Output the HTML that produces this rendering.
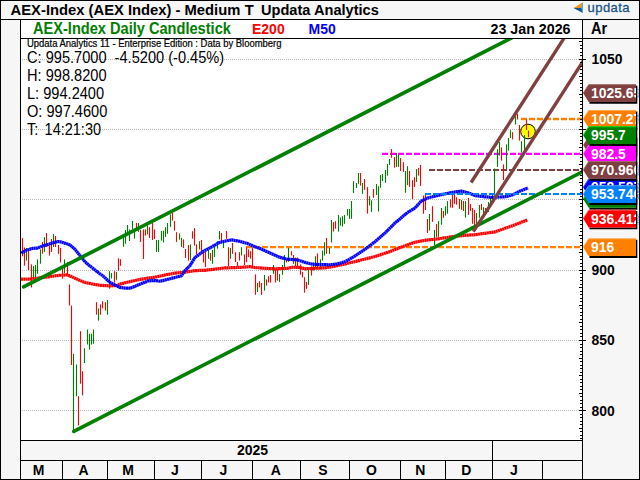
<!DOCTYPE html>
<html><head><meta charset="utf-8"><title>AEX-Index</title>
<style>
html,body{margin:0;padding:0;background:#f6f6f6;}
body{width:640px;height:480px;overflow:hidden;font-family:"Liberation Sans",sans-serif;}
svg{display:block;font-family:"Liberation Sans",sans-serif;}
text{font-family:"Liberation Sans",sans-serif;}
.b{font-weight:bold;}
</style></head><body>
<svg width="640" height="480" viewBox="0 0 640 480">
<defs><clipPath id="cp"><rect x="21" y="39" width="561" height="401"/></clipPath></defs>

<rect x="0" y="0" width="640" height="480" fill="#f6f6f6"/>
<rect x="21" y="20" width="561" height="18" fill="#ffffff"/>
<rect x="21" y="39" width="561" height="401" fill="#ffffff"/>
<g stroke="#b8b8b8" stroke-width="1" stroke-dasharray="1 1" shape-rendering="crispEdges">
<line x1="22" y1="59.5" x2="582" y2="59.5"/>
<line x1="22" y1="129.5" x2="582" y2="129.5"/>
<line x1="22" y1="199.5" x2="582" y2="199.5"/>
<line x1="22" y1="270.5" x2="582" y2="270.5"/>
<line x1="22" y1="340.5" x2="582" y2="340.5"/>
<line x1="22" y1="410.5" x2="582" y2="410.5"/>
</g>
<g clip-path="url(#cp)">
<circle cx="528" cy="131.5" r="7.3" fill="#ffff00" stroke="#000" stroke-width="1"/>
<line x1="246" y1="247.1" x2="582" y2="247.1" stroke="#ff8000" stroke-width="2.3" stroke-dasharray="6 2"/>
<line x1="521" y1="119.0" x2="582" y2="119.0" stroke="#ff8000" stroke-width="2.3" stroke-dasharray="6 2"/>
<line x1="382" y1="153.8" x2="582" y2="153.8" stroke="#ff00ff" stroke-width="2.3" stroke-dasharray="6 2"/>
<line x1="429" y1="170.0" x2="582" y2="170.0" stroke="#804040" stroke-width="2.1" stroke-dasharray="6 2"/>
<g>
<rect x="21.95" y="238.1" width="1.1" height="18.2" fill="#ff0000"/>
<rect x="23.95" y="247.5" width="1.1" height="18.1" fill="#ff0000"/>
<rect x="25.95" y="248.0" width="1.1" height="12.6" fill="#008000"/>
<rect x="27.95" y="250.0" width="1.1" height="20.0" fill="#ff0000"/>
<rect x="30.95" y="264.4" width="1.1" height="23.1" fill="#ff0000"/>
<rect x="32.95" y="266.0" width="1.1" height="11.5" fill="#008000"/>
<rect x="34.95" y="265.0" width="1.1" height="12.0" fill="#008000"/>
<rect x="36.95" y="259.4" width="1.1" height="14.4" fill="#008000"/>
<rect x="39.95" y="249.4" width="1.1" height="14.3" fill="#008000"/>
<rect x="41.95" y="241.9" width="1.1" height="11.8" fill="#ff0000"/>
<rect x="43.95" y="237.2" width="1.1" height="14.7" fill="#008000"/>
<rect x="45.95" y="233.0" width="1.1" height="14.0" fill="#ff0000"/>
<rect x="48.95" y="245.6" width="1.1" height="10.0" fill="#ff0000"/>
<rect x="50.95" y="239.0" width="1.1" height="13.0" fill="#ff0000"/>
<rect x="52.95" y="234.0" width="1.1" height="13.0" fill="#008000"/>
<rect x="54.95" y="236.0" width="1.1" height="11.0" fill="#ff0000"/>
<rect x="57.95" y="245.0" width="1.1" height="8.8" fill="#ff0000"/>
<rect x="59.95" y="248.0" width="1.1" height="14.5" fill="#ff0000"/>
<rect x="61.95" y="267.5" width="1.1" height="11.2" fill="#ff0000"/>
<rect x="63.95" y="259.4" width="1.1" height="13.6" fill="#008000"/>
<rect x="66.95" y="262.0" width="1.1" height="12.4" fill="#ff0000"/>
<rect x="68.95" y="284.4" width="1.1" height="21.2" fill="#ff0000"/>
<rect x="70.95" y="305.6" width="1.1" height="59.4" fill="#ff0000"/>
<rect x="72.95" y="353.8" width="1.1" height="76.2" fill="#008000"/>
<rect x="75.95" y="364.5" width="1.1" height="31.8" fill="#008000"/>
<rect x="77.95" y="396.2" width="1.1" height="29.2" fill="#ff0000"/>
<rect x="79.95" y="331.2" width="1.1" height="52.5" fill="#ff0000"/>
<rect x="81.95" y="371.2" width="1.1" height="24.2" fill="#ff0000"/>
<rect x="83.95" y="348.2" width="1.1" height="14.8" fill="#008000"/>
<rect x="86.95" y="329.5" width="1.1" height="15.0" fill="#008000"/>
<rect x="88.95" y="333.8" width="1.1" height="15.8" fill="#008000"/>
<rect x="90.95" y="333.8" width="1.1" height="10.8" fill="#008000"/>
<rect x="92.95" y="329.5" width="1.1" height="14.2" fill="#008000"/>
<rect x="95.95" y="302.2" width="1.1" height="12.5" fill="#ff0000"/>
<rect x="97.95" y="308.5" width="1.1" height="12.1" fill="#008000"/>
<rect x="99.95" y="304.4" width="1.1" height="10.4" fill="#ff0000"/>
<rect x="101.95" y="301.2" width="1.1" height="7.2" fill="#ff0000"/>
<rect x="104.95" y="302.2" width="1.1" height="8.4" fill="#ff0000"/>
<rect x="106.95" y="300.0" width="1.1" height="14.8" fill="#008000"/>
<rect x="108.95" y="271.2" width="1.1" height="17.5" fill="#008000"/>
<rect x="110.95" y="273.0" width="1.1" height="5.5" fill="#008000"/>
<rect x="113.95" y="271.2" width="1.1" height="11.4" fill="#ff0000"/>
<rect x="115.95" y="272.0" width="1.1" height="7.8" fill="#008000"/>
<rect x="117.95" y="258.3" width="1.1" height="12.4" fill="#ff0000"/>
<rect x="119.95" y="259.2" width="1.1" height="6.6" fill="#ff0000"/>
<rect x="122.95" y="236.9" width="1.1" height="10.0" fill="#008000"/>
<rect x="124.95" y="230.0" width="1.1" height="13.8" fill="#008000"/>
<rect x="126.95" y="225.0" width="1.1" height="9.4" fill="#008000"/>
<rect x="128.95" y="229.4" width="1.1" height="11.6" fill="#008000"/>
<rect x="131.95" y="221.0" width="1.1" height="8.4" fill="#008000"/>
<rect x="133.95" y="231.2" width="1.1" height="7.5" fill="#008000"/>
<rect x="135.95" y="223.0" width="1.1" height="5.0" fill="#ff0000"/>
<rect x="137.95" y="223.0" width="1.1" height="8.9" fill="#008000"/>
<rect x="139.95" y="230.0" width="1.1" height="11.9" fill="#ff0000"/>
<rect x="142.95" y="229.4" width="1.1" height="29.6" fill="#ff0000"/>
<rect x="144.95" y="229.4" width="1.1" height="6.2" fill="#ff0000"/>
<rect x="146.95" y="225.6" width="1.1" height="8.8" fill="#008000"/>
<rect x="148.95" y="227.2" width="1.1" height="10.8" fill="#ff0000"/>
<rect x="151.95" y="223.0" width="1.1" height="17.0" fill="#ff0000"/>
<rect x="153.95" y="229.4" width="1.1" height="9.6" fill="#ff0000"/>
<rect x="155.95" y="240.0" width="1.1" height="11.9" fill="#008000"/>
<rect x="157.95" y="240.0" width="1.1" height="11.9" fill="#008000"/>
<rect x="160.95" y="231.0" width="1.1" height="9.6" fill="#008000"/>
<rect x="162.95" y="230.6" width="1.1" height="11.9" fill="#008000"/>
<rect x="164.95" y="227.2" width="1.1" height="9.7" fill="#008000"/>
<rect x="166.95" y="223.0" width="1.1" height="10.8" fill="#008000"/>
<rect x="169.95" y="214.4" width="1.1" height="12.5" fill="#008000"/>
<rect x="171.95" y="213.0" width="1.1" height="7.6" fill="#ff0000"/>
<rect x="173.95" y="221.0" width="1.1" height="9.6" fill="#ff0000"/>
<rect x="175.95" y="232.2" width="1.1" height="9.7" fill="#ff0000"/>
<rect x="178.95" y="233.5" width="1.1" height="6.2" fill="#008000"/>
<rect x="180.95" y="238.0" width="1.1" height="8.9" fill="#008000"/>
<rect x="182.95" y="239.4" width="1.1" height="8.6" fill="#ff0000"/>
<rect x="184.95" y="249.0" width="1.1" height="9.0" fill="#ff0000"/>
<rect x="187.95" y="245.0" width="1.1" height="15.6" fill="#ff0000"/>
<rect x="189.95" y="244.4" width="1.1" height="15.6" fill="#008000"/>
<rect x="191.95" y="231.2" width="1.1" height="7.5" fill="#ff0000"/>
<rect x="193.95" y="228.0" width="1.1" height="17.6" fill="#ff0000"/>
<rect x="195.95" y="244.4" width="1.1" height="10.1" fill="#ff0000"/>
<rect x="198.95" y="241.2" width="1.1" height="8.2" fill="#008000"/>
<rect x="200.95" y="240.0" width="1.1" height="12.0" fill="#ff0000"/>
<rect x="202.95" y="252.0" width="1.1" height="10.5" fill="#ff0000"/>
<rect x="204.95" y="252.0" width="1.1" height="15.0" fill="#ff0000"/>
<rect x="207.95" y="250.0" width="1.1" height="8.8" fill="#008000"/>
<rect x="209.95" y="253.0" width="1.1" height="7.6" fill="#ff0000"/>
<rect x="211.95" y="250.0" width="1.1" height="13.8" fill="#008000"/>
<rect x="213.95" y="247.0" width="1.1" height="10.0" fill="#008000"/>
<rect x="216.95" y="241.2" width="1.1" height="7.5" fill="#008000"/>
<rect x="218.95" y="231.0" width="1.1" height="8.4" fill="#008000"/>
<rect x="220.95" y="233.0" width="1.1" height="8.2" fill="#ff0000"/>
<rect x="222.95" y="241.2" width="1.1" height="6.8" fill="#008000"/>
<rect x="225.95" y="231.0" width="1.1" height="7.8" fill="#ff0000"/>
<rect x="227.95" y="247.2" width="1.1" height="19.0" fill="#ff0000"/>
<rect x="229.95" y="248.0" width="1.1" height="10.8" fill="#008000"/>
<rect x="231.95" y="243.0" width="1.1" height="10.8" fill="#ff0000"/>
<rect x="234.95" y="252.2" width="1.1" height="9.8" fill="#ff0000"/>
<rect x="236.95" y="262.0" width="1.1" height="4.2" fill="#ff0000"/>
<rect x="238.95" y="252.2" width="1.1" height="8.4" fill="#ff0000"/>
<rect x="240.95" y="247.2" width="1.1" height="8.3" fill="#008000"/>
<rect x="243.95" y="254.4" width="1.1" height="10.6" fill="#ff0000"/>
<rect x="245.95" y="247.5" width="1.1" height="14.5" fill="#ff0000"/>
<rect x="247.95" y="249.4" width="1.1" height="7.6" fill="#ff0000"/>
<rect x="249.95" y="251.2" width="1.1" height="7.5" fill="#ff0000"/>
<rect x="251.95" y="247.5" width="1.1" height="19.0" fill="#ff0000"/>
<rect x="254.95" y="274.4" width="1.1" height="20.4" fill="#ff0000"/>
<rect x="256.95" y="283.0" width="1.1" height="9.0" fill="#008000"/>
<rect x="258.95" y="281.2" width="1.1" height="6.2" fill="#ff0000"/>
<rect x="260.95" y="283.0" width="1.1" height="11.8" fill="#ff0000"/>
<rect x="263.95" y="275.0" width="1.1" height="15.6" fill="#008000"/>
<rect x="265.95" y="279.4" width="1.1" height="6.2" fill="#ff0000"/>
<rect x="267.95" y="276.2" width="1.1" height="6.2" fill="#ff0000"/>
<rect x="269.95" y="275.0" width="1.1" height="7.5" fill="#ff0000"/>
<rect x="272.95" y="265.0" width="1.1" height="8.8" fill="#008000"/>
<rect x="274.95" y="269.4" width="1.1" height="13.1" fill="#ff0000"/>
<rect x="276.95" y="269.4" width="1.1" height="11.2" fill="#ff0000"/>
<rect x="278.95" y="274.0" width="1.1" height="7.9" fill="#008000"/>
<rect x="281.95" y="265.0" width="1.1" height="9.8" fill="#008000"/>
<rect x="283.95" y="255.0" width="1.1" height="11.9" fill="#008000"/>
<rect x="285.95" y="259.4" width="1.1" height="3.1" fill="#ff0000"/>
<rect x="287.95" y="247.8" width="1.1" height="14.1" fill="#008000"/>
<rect x="290.95" y="251.2" width="1.1" height="4.3" fill="#ff0000"/>
<rect x="292.95" y="255.0" width="1.1" height="8.8" fill="#ff0000"/>
<rect x="294.95" y="257.5" width="1.1" height="8.8" fill="#008000"/>
<rect x="296.95" y="257.5" width="1.1" height="8.8" fill="#ff0000"/>
<rect x="299.95" y="264.4" width="1.1" height="10.4" fill="#ff0000"/>
<rect x="301.95" y="271.9" width="1.1" height="5.6" fill="#ff0000"/>
<rect x="303.95" y="277.2" width="1.1" height="15.5" fill="#ff0000"/>
<rect x="305.95" y="281.9" width="1.1" height="6.9" fill="#ff0000"/>
<rect x="307.95" y="270.0" width="1.1" height="14.8" fill="#008000"/>
<rect x="310.95" y="266.2" width="1.1" height="9.4" fill="#ff0000"/>
<rect x="312.95" y="262.5" width="1.1" height="8.1" fill="#008000"/>
<rect x="314.95" y="256.2" width="1.1" height="12.5" fill="#008000"/>
<rect x="316.95" y="253.5" width="1.1" height="14.5" fill="#ff0000"/>
<rect x="319.95" y="259.4" width="1.1" height="9.4" fill="#008000"/>
<rect x="321.95" y="250.6" width="1.1" height="10.0" fill="#008000"/>
<rect x="323.95" y="242.2" width="1.1" height="13.3" fill="#008000"/>
<rect x="325.95" y="238.0" width="1.1" height="15.8" fill="#ff0000"/>
<rect x="328.95" y="248.0" width="1.1" height="6.0" fill="#008000"/>
<rect x="330.95" y="220.0" width="1.1" height="22.5" fill="#008000"/>
<rect x="332.95" y="222.2" width="1.1" height="9.3" fill="#ff0000"/>
<rect x="334.95" y="221.2" width="1.1" height="7.5" fill="#ff0000"/>
<rect x="337.95" y="215.0" width="1.1" height="16.6" fill="#008000"/>
<rect x="339.95" y="217.5" width="1.1" height="8.1" fill="#008000"/>
<rect x="341.95" y="216.2" width="1.1" height="10.3" fill="#008000"/>
<rect x="343.95" y="215.0" width="1.1" height="8.8" fill="#008000"/>
<rect x="346.95" y="209.0" width="1.1" height="6.6" fill="#008000"/>
<rect x="348.95" y="209.0" width="1.1" height="9.8" fill="#008000"/>
<rect x="350.95" y="201.0" width="1.1" height="17.8" fill="#008000"/>
<rect x="352.95" y="181.2" width="1.1" height="11.8" fill="#008000"/>
<rect x="355.95" y="183.0" width="1.1" height="5.0" fill="#008000"/>
<rect x="357.95" y="173.0" width="1.1" height="10.8" fill="#008000"/>
<rect x="359.95" y="173.0" width="1.1" height="12.6" fill="#ff0000"/>
<rect x="361.95" y="183.0" width="1.1" height="10.8" fill="#008000"/>
<rect x="363.95" y="179.0" width="1.1" height="10.8" fill="#ff0000"/>
<rect x="366.95" y="187.2" width="1.1" height="26.5" fill="#ff0000"/>
<rect x="368.95" y="196.2" width="1.1" height="9.3" fill="#008000"/>
<rect x="370.95" y="200.3" width="1.1" height="11.6" fill="#008000"/>
<rect x="372.95" y="189.0" width="1.1" height="8.8" fill="#ff0000"/>
<rect x="375.95" y="184.0" width="1.1" height="11.0" fill="#008000"/>
<rect x="377.95" y="186.2" width="1.1" height="25.3" fill="#008000"/>
<rect x="379.95" y="175.0" width="1.1" height="12.8" fill="#008000"/>
<rect x="381.95" y="174.0" width="1.1" height="7.0" fill="#008000"/>
<rect x="384.95" y="170.0" width="1.1" height="12.8" fill="#008000"/>
<rect x="386.95" y="164.0" width="1.1" height="11.6" fill="#008000"/>
<rect x="388.95" y="159.0" width="1.1" height="6.0" fill="#008000"/>
<rect x="390.95" y="149.0" width="1.1" height="8.8" fill="#ff0000"/>
<rect x="393.95" y="157.2" width="1.1" height="10.5" fill="#ff0000"/>
<rect x="395.95" y="153.0" width="1.1" height="13.9" fill="#008000"/>
<rect x="397.95" y="155.0" width="1.1" height="11.9" fill="#008000"/>
<rect x="399.95" y="158.0" width="1.1" height="13.0" fill="#ff0000"/>
<rect x="402.95" y="162.2" width="1.1" height="9.7" fill="#ff0000"/>
<rect x="404.95" y="171.0" width="1.1" height="21.8" fill="#008000"/>
<rect x="406.95" y="166.2" width="1.1" height="18.8" fill="#008000"/>
<rect x="408.95" y="171.0" width="1.1" height="15.9" fill="#ff0000"/>
<rect x="411.95" y="180.2" width="1.1" height="18.8" fill="#ff0000"/>
<rect x="413.95" y="177.2" width="1.1" height="9.7" fill="#ff0000"/>
<rect x="415.95" y="169.0" width="1.1" height="12.9" fill="#008000"/>
<rect x="417.95" y="168.0" width="1.1" height="7.6" fill="#ff0000"/>
<rect x="419.95" y="165.0" width="1.1" height="21.0" fill="#ff0000"/>
<rect x="422.95" y="195.6" width="1.1" height="18.2" fill="#ff0000"/>
<rect x="424.95" y="194.4" width="1.1" height="15.6" fill="#ff0000"/>
<rect x="426.95" y="219.0" width="1.1" height="14.0" fill="#ff0000"/>
<rect x="428.95" y="214.0" width="1.1" height="16.6" fill="#008000"/>
<rect x="431.95" y="206.2" width="1.1" height="15.7" fill="#ff0000"/>
<rect x="433.95" y="230.0" width="1.1" height="15.0" fill="#008000"/>
<rect x="435.95" y="224.0" width="1.1" height="12.9" fill="#ff0000"/>
<rect x="437.95" y="221.2" width="1.1" height="15.7" fill="#008000"/>
<rect x="440.95" y="208.0" width="1.1" height="16.8" fill="#008000"/>
<rect x="442.95" y="211.0" width="1.1" height="6.8" fill="#ff0000"/>
<rect x="444.95" y="206.2" width="1.1" height="9.3" fill="#008000"/>
<rect x="446.95" y="201.2" width="1.1" height="12.5" fill="#008000"/>
<rect x="449.95" y="199.4" width="1.1" height="8.1" fill="#ff0000"/>
<rect x="451.95" y="195.0" width="1.1" height="12.8" fill="#ff0000"/>
<rect x="453.95" y="195.0" width="1.1" height="8.8" fill="#ff0000"/>
<rect x="455.95" y="197.2" width="1.1" height="7.5" fill="#ff0000"/>
<rect x="458.95" y="199.0" width="1.1" height="9.8" fill="#ff0000"/>
<rect x="460.95" y="200.0" width="1.1" height="9.8" fill="#008000"/>
<rect x="462.95" y="201.0" width="1.1" height="10.0" fill="#ff0000"/>
<rect x="464.95" y="201.2" width="1.1" height="16.5" fill="#008000"/>
<rect x="467.95" y="198.0" width="1.1" height="16.8" fill="#ff0000"/>
<rect x="469.95" y="204.0" width="1.1" height="7.0" fill="#ff0000"/>
<rect x="471.95" y="208.0" width="1.1" height="15.8" fill="#ff0000"/>
<rect x="473.95" y="210.0" width="1.1" height="15.0" fill="#ff0000"/>
<rect x="475.95" y="213.0" width="1.1" height="10.8" fill="#008000"/>
<rect x="478.95" y="205.0" width="1.1" height="12.8" fill="#008000"/>
<rect x="480.95" y="204.0" width="1.1" height="6.0" fill="#ff0000"/>
<rect x="482.95" y="207.2" width="1.1" height="6.5" fill="#008000"/>
<rect x="484.95" y="208.0" width="1.1" height="4.0" fill="#ff0000"/>
<rect x="487.95" y="202.0" width="1.1" height="10.0" fill="#008000"/>
<rect x="489.95" y="197.0" width="1.1" height="7.0" fill="#008000"/>
<rect x="491.95" y="194.0" width="1.1" height="7.0" fill="#008000"/>
<rect x="493.95" y="168.5" width="1.1" height="27.0" fill="#008000"/>
<rect x="496.95" y="149.2" width="1.1" height="17.7" fill="#008000"/>
<rect x="498.95" y="142.0" width="1.1" height="13.6" fill="#008000"/>
<rect x="500.95" y="147.4" width="1.1" height="13.2" fill="#ff0000"/>
<rect x="502.95" y="164.4" width="1.1" height="15.6" fill="#ff0000"/>
<rect x="505.95" y="144.4" width="1.1" height="24.6" fill="#008000"/>
<rect x="507.95" y="138.0" width="1.1" height="12.6" fill="#008000"/>
<rect x="509.95" y="130.2" width="1.1" height="7.8" fill="#008000"/>
<rect x="511.95" y="132.2" width="1.1" height="7.2" fill="#ff0000"/>
<rect x="514.95" y="116.2" width="1.1" height="8.2" fill="#008000"/>
<rect x="516.95" y="113.8" width="1.1" height="5.7" fill="#ff0000"/>
<rect x="518.95" y="125.0" width="1.1" height="15.6" fill="#ff0000"/>
<rect x="520.95" y="141.2" width="1.1" height="11.2" fill="#008000"/>
<rect x="523.95" y="135.0" width="1.1" height="17.5" fill="#008000"/>
<rect x="525.95" y="119.4" width="1.1" height="10.6" fill="#ff0000"/>
<rect x="527.95" y="130.6" width="1.1" height="6.7" fill="#ff0000"/>
</g>
<polyline points="21,279.05 30,279.05 40,277.8 50,276.55 57.5,275.55 66.25,274.8 70,275.90000000000003 75,278.3 80,280.5 85,282.5 92.5,284.0 100,285.3 110,285.90000000000003 117.5,285.40000000000003 120,284.1 130,281.6 140,279.40000000000003 150,277.8 155,277.2 165,275.0 175,273.1 185,272.2 195,270.6 205,270.3 215,269.05 225,267.90000000000003 235,267.6 245,267.1 250,266.6 255,267.55 265,268.3 275,268.8 287.5,268.3 292.5,267.2 300,267.55 305,268.8 315,268.3 325,267.8 330,267.1 345,264.05 360,260.3 375,256.55 390,251.55 400,247.60000000000002 415,242.20000000000002 425,240.3 435,239.3 445,237.8 455,236.3 465,235.3 475,234.70000000000002 485,233.3 495,231.9 505,228.3 515,224.8 527.5,219.8" fill="none" stroke="#ff0000" stroke-width="3.2" stroke-linejoin="round" stroke-linecap="butt" stroke-dasharray="2.0 0.25"/>
<polyline points="21.25,253.1 26.25,250.3 32.5,248.4 37.5,248.1 42.5,245.9 47.5,244.7 52.5,242.8 57.5,241.6 60,241.7 62.5,242.4 70,244.9 75,249.25 80,255.5 85,261.75 90,266.1 95,269.9 100,274.0 102.5,275.5 110,282.4 115,285.0 120,287.5 125,288.1 130.6,288.1 138.75,284.7 148,281.0 153.75,280.3 160,281.25 167.5,279.4 175,277.5 181.25,275.9 185,270.6 190,265.6 195,257.5 203.75,251.1 211.25,247.2 218.75,242.8 225,241.1 231.9,239.9 240,241.4 247.5,243.5 255,246.75 260,248.5 270,253.0 280,257.4 287.5,259.25 297.5,259.9 305,262.4 312.5,264.25 320,264.5 330,264.8 337,264.0 345,261.75 355,256.0 365,249.25 375,241.75 385,233.0 395,223.0 407.5,212.5 415,208.0 421.25,201.1 427.5,198.0 440,194.9 452.5,192.4 461.25,191.1 468.75,193.0 475,195.5 485,196.8 492.5,197.4 505,196.75 512.5,194.9 520,191.1 528,188.0" fill="none" stroke="#0000ff" stroke-width="3.2" stroke-linejoin="round" stroke-linecap="butt" stroke-dasharray="2.0 0.25"/>
<line x1="425" y1="194.1" x2="582" y2="194.1" stroke="#0080ff" stroke-width="2.0" stroke-dasharray="6 2"/>
<line x1="23.6" y1="286.9" x2="520" y2="33.59" stroke="#008000" stroke-width="3.65" stroke-linecap="round"/>
<line x1="73.8" y1="431.3" x2="590" y2="167.88" stroke="#008000" stroke-width="3.65" stroke-linecap="round"/>
<line x1="471.1" y1="182.5" x2="571.1" y2="27.20" stroke="#804040" stroke-width="3.35" stroke-linecap="butt"/>
<line x1="473.3" y1="231.7" x2="593.3" y2="45.34" stroke="#804040" stroke-width="3.35" stroke-linecap="butt"/>
</g>
<g fill="#000" shape-rendering="crispEdges">
<rect x="0" y="0" width="640" height="1"/>
<rect x="0" y="0" width="1" height="480"/>
<rect x="639" y="0" width="1" height="480"/>
<rect x="0" y="479" width="640" height="1"/>
<rect x="0" y="19" width="640" height="1"/>
<rect x="20" y="38" width="620" height="1"/>
<rect x="20" y="19" width="1" height="461"/>
<rect x="582" y="19" width="1" height="461"/>
<rect x="20" y="440" width="563" height="1"/>
<rect x="20" y="460" width="563" height="1"/>
<rect x="62" y="460" width="1" height="20"/>
<rect x="107" y="460" width="1" height="20"/>
<rect x="154" y="460" width="1" height="20"/>
<rect x="201" y="460" width="1" height="20"/>
<rect x="252" y="460" width="1" height="20"/>
<rect x="300" y="460" width="1" height="20"/>
<rect x="349" y="460" width="1" height="20"/>
<rect x="400" y="460" width="1" height="20"/>
<rect x="445" y="460" width="1" height="20"/>
<rect x="492" y="460" width="1" height="20"/>
<rect x="542" y="460" width="1" height="20"/>
<rect x="492" y="440" width="1" height="20"/>
<rect x="580" y="438" width="2" height="1"/>
<rect x="580" y="435" width="2" height="1"/>
<rect x="580" y="431" width="2" height="1"/>
<rect x="579" y="428" width="3" height="1"/>
<rect x="580" y="424" width="2" height="1"/>
<rect x="580" y="421" width="2" height="1"/>
<rect x="580" y="417" width="2" height="1"/>
<rect x="580" y="414" width="2" height="1"/>
<rect x="579" y="410" width="7" height="1"/>
<rect x="580" y="407" width="2" height="1"/>
<rect x="580" y="403" width="2" height="1"/>
<rect x="580" y="400" width="2" height="1"/>
<rect x="580" y="396" width="2" height="1"/>
<rect x="579" y="393" width="3" height="1"/>
<rect x="580" y="389" width="2" height="1"/>
<rect x="580" y="386" width="2" height="1"/>
<rect x="580" y="382" width="2" height="1"/>
<rect x="580" y="379" width="2" height="1"/>
<rect x="579" y="375" width="3" height="1"/>
<rect x="580" y="372" width="2" height="1"/>
<rect x="580" y="368" width="2" height="1"/>
<rect x="580" y="365" width="2" height="1"/>
<rect x="580" y="361" width="2" height="1"/>
<rect x="579" y="358" width="3" height="1"/>
<rect x="580" y="354" width="2" height="1"/>
<rect x="580" y="351" width="2" height="1"/>
<rect x="580" y="347" width="2" height="1"/>
<rect x="580" y="344" width="2" height="1"/>
<rect x="579" y="340" width="7" height="1"/>
<rect x="580" y="336" width="2" height="1"/>
<rect x="580" y="333" width="2" height="1"/>
<rect x="580" y="329" width="2" height="1"/>
<rect x="580" y="326" width="2" height="1"/>
<rect x="579" y="322" width="3" height="1"/>
<rect x="580" y="319" width="2" height="1"/>
<rect x="580" y="315" width="2" height="1"/>
<rect x="580" y="312" width="2" height="1"/>
<rect x="580" y="308" width="2" height="1"/>
<rect x="579" y="305" width="3" height="1"/>
<rect x="580" y="301" width="2" height="1"/>
<rect x="580" y="298" width="2" height="1"/>
<rect x="580" y="294" width="2" height="1"/>
<rect x="580" y="291" width="2" height="1"/>
<rect x="579" y="287" width="3" height="1"/>
<rect x="580" y="284" width="2" height="1"/>
<rect x="580" y="280" width="2" height="1"/>
<rect x="580" y="277" width="2" height="1"/>
<rect x="580" y="273" width="2" height="1"/>
<rect x="579" y="270" width="7" height="1"/>
<rect x="580" y="266" width="2" height="1"/>
<rect x="580" y="263" width="2" height="1"/>
<rect x="580" y="259" width="2" height="1"/>
<rect x="580" y="256" width="2" height="1"/>
<rect x="579" y="252" width="3" height="1"/>
<rect x="580" y="249" width="2" height="1"/>
<rect x="580" y="245" width="2" height="1"/>
<rect x="580" y="242" width="2" height="1"/>
<rect x="580" y="238" width="2" height="1"/>
<rect x="579" y="235" width="3" height="1"/>
<rect x="580" y="231" width="2" height="1"/>
<rect x="580" y="228" width="2" height="1"/>
<rect x="580" y="224" width="2" height="1"/>
<rect x="580" y="220" width="2" height="1"/>
<rect x="579" y="217" width="3" height="1"/>
<rect x="580" y="213" width="2" height="1"/>
<rect x="580" y="210" width="2" height="1"/>
<rect x="580" y="206" width="2" height="1"/>
<rect x="580" y="203" width="2" height="1"/>
<rect x="579" y="199" width="7" height="1"/>
<rect x="580" y="196" width="2" height="1"/>
<rect x="580" y="192" width="2" height="1"/>
<rect x="580" y="189" width="2" height="1"/>
<rect x="580" y="185" width="2" height="1"/>
<rect x="579" y="182" width="3" height="1"/>
<rect x="580" y="178" width="2" height="1"/>
<rect x="580" y="175" width="2" height="1"/>
<rect x="580" y="171" width="2" height="1"/>
<rect x="580" y="168" width="2" height="1"/>
<rect x="579" y="164" width="3" height="1"/>
<rect x="580" y="161" width="2" height="1"/>
<rect x="580" y="157" width="2" height="1"/>
<rect x="580" y="154" width="2" height="1"/>
<rect x="580" y="150" width="2" height="1"/>
<rect x="579" y="147" width="3" height="1"/>
<rect x="580" y="143" width="2" height="1"/>
<rect x="580" y="140" width="2" height="1"/>
<rect x="580" y="136" width="2" height="1"/>
<rect x="580" y="133" width="2" height="1"/>
<rect x="579" y="129" width="7" height="1"/>
<rect x="580" y="126" width="2" height="1"/>
<rect x="580" y="122" width="2" height="1"/>
<rect x="580" y="119" width="2" height="1"/>
<rect x="580" y="115" width="2" height="1"/>
<rect x="579" y="112" width="3" height="1"/>
<rect x="580" y="108" width="2" height="1"/>
<rect x="580" y="104" width="2" height="1"/>
<rect x="580" y="101" width="2" height="1"/>
<rect x="580" y="97" width="2" height="1"/>
<rect x="579" y="94" width="3" height="1"/>
<rect x="580" y="90" width="2" height="1"/>
<rect x="580" y="87" width="2" height="1"/>
<rect x="580" y="83" width="2" height="1"/>
<rect x="580" y="80" width="2" height="1"/>
<rect x="579" y="76" width="3" height="1"/>
<rect x="580" y="73" width="2" height="1"/>
<rect x="580" y="69" width="2" height="1"/>
<rect x="580" y="66" width="2" height="1"/>
<rect x="580" y="62" width="2" height="1"/>
<rect x="579" y="59" width="7" height="1"/>
<rect x="580" y="55" width="2" height="1"/>
<rect x="580" y="52" width="2" height="1"/>
<rect x="580" y="48" width="2" height="1"/>
<rect x="580" y="45" width="2" height="1"/>
<rect x="579" y="41" width="3" height="1"/>
</g>
<g fill="#000" font-size="14px">
<text transform="translate(10.6 14.6) scale(1 1.05)" class="b" font-size="14.78px" xml:space="preserve" >AEX-Index (AEX Index) - Medium</text>
<text transform="translate(244.7 14.6) scale(1 1.05)" class="b" font-size="14.75px" xml:space="preserve" >T</text>
<text transform="translate(261 14.6) scale(1 1.05)" class="b" font-size="14.6px" xml:space="preserve" >Updata Analytics</text>
<text transform="translate(33 34) scale(1 1.08)" class="b" fill="#008000" font-size="14.6px" xml:space="preserve" >AEX-Index Daily Candlestick</text>
<text transform="translate(252 34) scale(1 1.08)" class="b" fill="#ff0000" font-size="14px" xml:space="preserve" >E200</text>
<text transform="translate(308.5 34) scale(1 1.08)" class="b" fill="#0000ff" font-size="14px" xml:space="preserve" >M50</text>
<text transform="translate(490.5 34) scale(1 1.08)" class="b" font-size="14.25px" xml:space="preserve" >23 Jan 2026</text>
<text transform="translate(591 34) scale(1 1.08)" class="b" font-size="14.6px" xml:space="preserve" >Ar</text>
<text transform="translate(44.6 135.4) scale(1 1.08)" font-size="14.5px" xml:space="preserve" >14:21:30</text>
<text transform="translate(27 47.2) scale(1 1.08)" font-size="9.45px" xml:space="preserve" stroke="#000" stroke-width="0.2">Updata Analytics 11 - Enterprise Edition : Data by Bloomberg</text>
<text transform="translate(27 63.4) scale(1 1.08)" font-size="14.6px" xml:space="preserve" >C: 995.7000  -4.5200 (-0.45%)</text>
<text transform="translate(27 81.4) scale(1 1.08)" font-size="14.6px" xml:space="preserve" >H: 998.8200</text>
<text transform="translate(27 99.4) scale(1 1.08)" font-size="14.6px" xml:space="preserve" >L: 994.2400</text>
<text transform="translate(27 117.4) scale(1 1.08)" font-size="14.6px" xml:space="preserve" >O: 997.4600</text>
<text transform="translate(27 135.4) scale(1 1.08)" font-size="14.6px" xml:space="preserve" >T:</text>
<text transform="translate(591.5 64.0) scale(1 1.1)" class="b" font-size="13.9px" xml:space="preserve" >1050</text>
<text transform="translate(591.5 274.9) scale(1 1.1)" class="b" font-size="13.9px" xml:space="preserve" >900</text>
<text transform="translate(591.5 345.2) scale(1 1.1)" class="b" font-size="13.9px" xml:space="preserve" >850</text>
<text transform="translate(591.5 415.5) scale(1 1.1)" class="b" font-size="13.9px" xml:space="preserve" >800</text>
<text transform="translate(237 455.2) scale(1 1.09)" class="b" font-size="14px" xml:space="preserve" >2025</text>
<text transform="translate(38.5 475.2) scale(1 1.09)" class="b" text-anchor="middle" font-size="14px" xml:space="preserve" >M</text>
<text transform="translate(83.6 475.2) scale(1 1.09)" class="b" text-anchor="middle" font-size="14px" xml:space="preserve" >A</text>
<text transform="translate(128 475.2) scale(1 1.09)" class="b" text-anchor="middle" font-size="14px" xml:space="preserve" >M</text>
<text transform="translate(175 475.2) scale(1 1.09)" class="b" text-anchor="middle" font-size="14px" xml:space="preserve" >J</text>
<text transform="translate(223.4 475.2) scale(1 1.09)" class="b" text-anchor="middle" font-size="14px" xml:space="preserve" >J</text>
<text transform="translate(275.9 475.2) scale(1 1.09)" class="b" text-anchor="middle" font-size="14px" xml:space="preserve" >A</text>
<text transform="translate(323 475.2) scale(1 1.09)" class="b" text-anchor="middle" font-size="14px" xml:space="preserve" >S</text>
<text transform="translate(371.5 475.2) scale(1 1.09)" class="b" text-anchor="middle" font-size="14px" xml:space="preserve" >O</text>
<text transform="translate(420.4 475.2) scale(1 1.09)" class="b" text-anchor="middle" font-size="14px" xml:space="preserve" >N</text>
<text transform="translate(466.3 475.2) scale(1 1.09)" class="b" text-anchor="middle" font-size="14px" xml:space="preserve" >D</text>
<text transform="translate(514 475.2) scale(1 1.09)" class="b" text-anchor="middle" font-size="14px" xml:space="preserve" >J</text>
</g>
<g>
<path d="M573.4 8.1 L581.6 8.0 L582.9 12.9 Z" fill="#18528a"/>
<path d="M581.4 3.2 L582.9 2.5 L582.9 12.9 L581.0 8.0 Z" fill="#29abe2"/>
<path d="M573.4 8.1 L582.3 2.7 L581.4 8.1 Z" fill="#f7941d"/>
<text x="587.6" y="12" font-size="13px" fill="#18528a" stroke="#18528a" stroke-width="0.3" letter-spacing="0.42">updata</text>
</g>
<path d="M589.5 153.8 L636 153.8 L636 137.5 L637.3 137.5 L637.3 155.70000000000002 L589.5 155.70000000000002 Z" fill="#000"/>
<path d="M583.2 145 L588.7 136.5 L636 136.5 L636 153.8 L588.7 153.8 Z" fill="#804040"/>
<svg x="583" y="136.5" width="53" height="17.5" viewBox="583 136.5 53 17.5" overflow="hidden"><text class="b" transform="translate(591 150.0) scale(1 1.07)" font-size="13.9px" fill="#fff"></text></svg>
<svg x="637.3" y="84.63609999999989" width="1.7" height="18" viewBox="637.3 84.63609999999989 1.7 18" overflow="hidden"><text class="b" transform="translate(591 98.13609999999989) scale(1 1.07)" font-size="13.9px" fill="#fff" stroke="#3399ff" stroke-width="0.7">1025.65</text></svg>
<path d="M589.5 101.93609999999988 L636 101.93609999999988 L636 85.63609999999989 L637.3 85.63609999999989 L637.3 103.83609999999989 L589.5 103.83609999999989 Z" fill="#000"/>
<path d="M583.2 93.13609999999989 L588.7 84.63609999999989 L636 84.63609999999989 L636 101.93609999999988 L588.7 101.93609999999988 Z" fill="#804040"/>
<path d="M583.2 93.13609999999989 L588.7 84.63609999999989 L636 84.63609999999989" fill="none" stroke="#a06a6a" stroke-width="1"/>
<svg x="583" y="84.63609999999989" width="53" height="17.5" viewBox="583 84.63609999999989 53 17.5" overflow="hidden"><text class="b" transform="translate(591 98.13609999999989) scale(1 1.07)" font-size="13.9px" fill="#fff">1025.65</text></svg>
<svg x="637.3" y="110.47838000000004" width="1.7" height="18" viewBox="637.3 110.47838000000004 1.7 18" overflow="hidden"><text class="b" transform="translate(591 123.97838000000004) scale(1 1.07)" font-size="13.9px" fill="#fff" stroke="#3399ff" stroke-width="0.7">1007.27</text></svg>
<path d="M589.5 127.77838000000004 L636 127.77838000000004 L636 111.47838000000004 L637.3 111.47838000000004 L637.3 129.67838000000003 L589.5 129.67838000000003 Z" fill="#000"/>
<path d="M583.2 118.97838000000004 L588.7 110.47838000000004 L636 110.47838000000004 L636 127.77838000000004 L588.7 127.77838000000004 Z" fill="#ff8000"/>
<path d="M583.2 118.97838000000004 L588.7 110.47838000000004 L636 110.47838000000004" fill="none" stroke="#ffa64d" stroke-width="1"/>
<svg x="583" y="110.47838000000004" width="53" height="17.5" viewBox="583 110.47838000000004 53 17.5" overflow="hidden"><text class="b" transform="translate(591 123.97838000000004) scale(1 1.07)" font-size="13.9px" fill="#fff">1007.27</text></svg>
<svg x="637.3" y="145.305" width="1.7" height="18" viewBox="637.3 145.305 1.7 18" overflow="hidden"><text class="b" transform="translate(591 158.805) scale(1 1.07)" font-size="13.9px" fill="#fff" stroke="#3399ff" stroke-width="0.7">982.5</text></svg>
<path d="M589.5 162.60500000000002 L636 162.60500000000002 L636 146.305 L637.3 146.305 L637.3 164.50500000000002 L589.5 164.50500000000002 Z" fill="#000"/>
<path d="M583.2 153.805 L588.7 145.305 L636 145.305 L636 162.60500000000002 L588.7 162.60500000000002 Z" fill="#ff00ff"/>
<path d="M583.2 153.805 L588.7 145.305 L636 145.305" fill="none" stroke="#ff66ff" stroke-width="1"/>
<svg x="583" y="145.305" width="53" height="17.5" viewBox="583 145.305 53 17.5" overflow="hidden"><text class="b" transform="translate(591 158.805) scale(1 1.07)" font-size="13.9px" fill="#fff">982.5</text></svg>
<svg x="637.3" y="126.74579999999995" width="1.7" height="18" viewBox="637.3 126.74579999999995 1.7 18" overflow="hidden"><text class="b" transform="translate(591 140.24579999999995) scale(1 1.07)" font-size="13.9px" fill="#fff" stroke="#3399ff" stroke-width="0.7">995.7</text></svg>
<path d="M589.5 144.04579999999996 L636 144.04579999999996 L636 127.74579999999995 L637.3 127.74579999999995 L637.3 145.94579999999996 L589.5 145.94579999999996 Z" fill="#000"/>
<path d="M583.2 135.24579999999995 L588.7 126.74579999999995 L636 126.74579999999995 L636 144.04579999999996 L588.7 144.04579999999996 Z" fill="#008000"/>
<path d="M583.2 135.24579999999995 L588.7 126.74579999999995 L636 126.74579999999995" fill="none" stroke="#00e000" stroke-width="1"/>
<svg x="583" y="126.74579999999995" width="53" height="17.5" viewBox="583 126.74579999999995 53 17.5" overflow="hidden"><text class="b" transform="translate(591 140.24579999999995) scale(1 1.07)" font-size="13.9px" fill="#fff">995.7</text></svg>
<svg x="637.3" y="178.93651999999997" width="1.7" height="18" viewBox="637.3 178.93651999999997 1.7 18" overflow="hidden"><text class="b" transform="translate(591 192.43651999999997) scale(1 1.07)" font-size="13.9px" fill="#fff" stroke="#3399ff" stroke-width="0.7">958.587</text></svg>
<path d="M589.5 196.23651999999998 L636 196.23651999999998 L636 179.93651999999997 L637.3 179.93651999999997 L637.3 198.13652 L589.5 198.13652 Z" fill="#000"/>
<path d="M583.2 187.43651999999997 L588.7 178.93651999999997 L636 178.93651999999997 L636 196.23651999999998 L588.7 196.23651999999998 Z" fill="#0000ff"/>
<path d="M583.2 187.43651999999997 L588.7 178.93651999999997 L636 178.93651999999997" fill="none" stroke="#4d4dff" stroke-width="1"/>
<svg x="583" y="178.93651999999997" width="53" height="17.5" viewBox="583 178.93651999999997 53 17.5" overflow="hidden"><text class="b" transform="translate(591 192.43651999999997) scale(1 1.07)" font-size="13.9px" fill="#fff">958.587</text></svg>
<svg x="637.3" y="161.53023999999996" width="1.7" height="18" viewBox="637.3 161.53023999999996 1.7 18" overflow="hidden"><text class="b" transform="translate(591 175.03023999999996) scale(1 1.07)" font-size="13.9px" fill="#fff" stroke="#3399ff" stroke-width="0.7">970.960</text></svg>
<path d="M589.5 178.83023999999997 L636 178.83023999999997 L636 162.53023999999996 L637.3 162.53023999999996 L637.3 180.73023999999998 L589.5 180.73023999999998 Z" fill="#000"/>
<path d="M583.2 170.03023999999996 L588.7 161.53023999999996 L636 161.53023999999996 L636 178.83023999999997 L588.7 178.83023999999997 Z" fill="#804040"/>
<path d="M583.2 170.03023999999996 L588.7 161.53023999999996 L636 161.53023999999996" fill="none" stroke="#a06a6a" stroke-width="1"/>
<svg x="583" y="161.53023999999996" width="53" height="17.5" viewBox="583 161.53023999999996 53 17.5" overflow="hidden"><text class="b" transform="translate(591 175.03023999999996) scale(1 1.07)" font-size="13.9px" fill="#fff">970.960</text></svg>
<svg x="637.3" y="190.43760000000003" width="1.7" height="18" viewBox="637.3 190.43760000000003 1.7 18" overflow="hidden"><text class="b" transform="translate(591 203.93760000000003) scale(1 1.07)" font-size="13.9px" fill="#fff" stroke="#3399ff" stroke-width="0.7">950.4</text></svg>
<path d="M589.5 207.73760000000004 L636 207.73760000000004 L636 191.43760000000003 L637.3 191.43760000000003 L637.3 209.63760000000005 L589.5 209.63760000000005 Z" fill="#000"/>
<path d="M583.2 198.93760000000003 L588.7 190.43760000000003 L636 190.43760000000003 L636 207.73760000000004 L588.7 207.73760000000004 Z" fill="#008000"/>
<path d="M583.2 198.93760000000003 L588.7 190.43760000000003 L636 190.43760000000003" fill="none" stroke="#00e000" stroke-width="1"/>
<svg x="583" y="190.43760000000003" width="53" height="17.5" viewBox="583 190.43760000000003 53 17.5" overflow="hidden"><text class="b" transform="translate(591 203.93760000000003) scale(1 1.07)" font-size="13.9px" fill="#fff">950.4</text></svg>
<svg x="637.3" y="185.74156" width="1.7" height="18" viewBox="637.3 185.74156 1.7 18" overflow="hidden"><text class="b" transform="translate(591 199.24156) scale(1 1.07)" font-size="13.9px" fill="#fff" stroke="#3399ff" stroke-width="0.7">953.746</text></svg>
<path d="M589.5 203.04156 L636 203.04156 L636 186.74156 L637.3 186.74156 L637.3 204.94156 L589.5 204.94156 Z" fill="#000"/>
<path d="M583.2 194.24156 L588.7 185.74156 L636 185.74156 L636 203.04156 L588.7 203.04156 Z" fill="#0080ff"/>
<path d="M583.2 194.24156 L588.7 185.74156 L636 185.74156" fill="none" stroke="#4da6ff" stroke-width="1"/>
<svg x="583" y="185.74156" width="53" height="17.5" viewBox="583 185.74156 53 17.5" overflow="hidden"><text class="b" transform="translate(591 199.24156) scale(1 1.07)" font-size="13.9px" fill="#fff">953.746</text></svg>
<svg x="637.3" y="210.10754000000006" width="1.7" height="18" viewBox="637.3 210.10754000000006 1.7 18" overflow="hidden"><text class="b" transform="translate(591 223.60754000000006) scale(1 1.07)" font-size="13.9px" fill="#fff" stroke="#3399ff" stroke-width="0.7">936.412</text></svg>
<path d="M589.5 227.40754000000007 L636 227.40754000000007 L636 211.10754000000006 L637.3 211.10754000000006 L637.3 229.30754000000007 L589.5 229.30754000000007 Z" fill="#000"/>
<path d="M583.2 218.60754000000006 L588.7 210.10754000000006 L636 210.10754000000006 L636 227.40754000000007 L588.7 227.40754000000007 Z" fill="#ff0000"/>
<path d="M583.2 218.60754000000006 L588.7 210.10754000000006 L636 210.10754000000006" fill="none" stroke="#ff6666" stroke-width="1"/>
<svg x="583" y="210.10754000000006" width="53" height="17.5" viewBox="583 210.10754000000006 53 17.5" overflow="hidden"><text class="b" transform="translate(591 223.60754000000006) scale(1 1.07)" font-size="13.9px" fill="#fff">936.412</text></svg>
<svg x="637.3" y="238.804" width="1.7" height="18" viewBox="637.3 238.804 1.7 18" overflow="hidden"><text class="b" transform="translate(591 252.304) scale(1 1.07)" font-size="13.9px" fill="#fff" stroke="#3399ff" stroke-width="0.7">916</text></svg>
<path d="M589.5 256.104 L636 256.104 L636 239.804 L637.3 239.804 L637.3 258.00399999999996 L589.5 258.00399999999996 Z" fill="#000"/>
<path d="M583.2 247.304 L588.7 238.804 L636 238.804 L636 256.104 L588.7 256.104 Z" fill="#ff8000"/>
<path d="M583.2 247.304 L588.7 238.804 L636 238.804" fill="none" stroke="#ffa64d" stroke-width="1"/>
<svg x="583" y="238.804" width="53" height="17.5" viewBox="583 238.804 53 17.5" overflow="hidden"><text class="b" transform="translate(591 252.304) scale(1 1.07)" font-size="13.9px" fill="#fff">916</text></svg>
</svg></body></html>
